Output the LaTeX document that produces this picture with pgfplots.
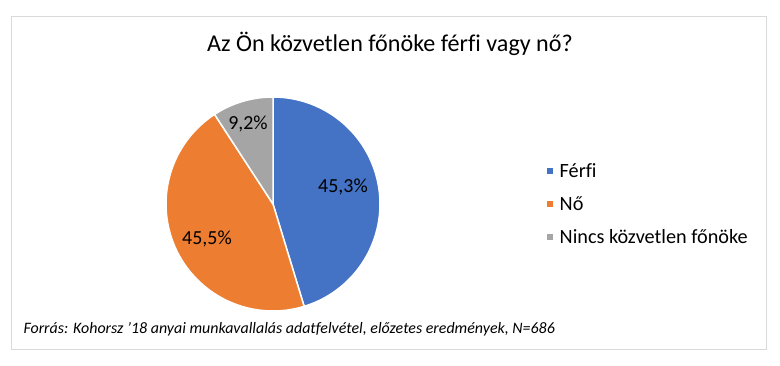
\documentclass[border=0pt]{standalone}
\usepackage{pgfplots}
\pgfplotsset{compat=1.18}
\usepackage{fontspec}
\setmainfont{Carlito}[Ligatures=NoCommon]
\definecolor{cBlue}{HTML}{4472C4}
\definecolor{cOrange}{HTML}{ED7D31}
\definecolor{cGray}{HTML}{A5A5A5}
\definecolor{cFrame}{HTML}{D9D9D9}
% shares in percent
\def\vFerfi{45.3}
\def\vNo{45.5}
\def\vNincs{9.2}
\def\cx{273}\def\cy{161}\def\rr{107}
\begin{document}
\begin{tikzpicture}
\pgfmathsetmacro{\aA}{90}
\pgfmathsetmacro{\aB}{90-3.6*\vFerfi}
\pgfmathsetmacro{\aC}{\aB-3.6*\vNo}
\pgfmathsetmacro{\aD}{\aC-3.6*\vNincs}
\begin{axis}[
  scale only axis, width=780bp, height=365bp,
  xmin=0, xmax=780, ymin=0, ymax=365,
  hide axis, clip=false,
  legend style={at={(axis cs:545,161)}, anchor=west, draw=none, fill=none,
    font=\fontsize{20.3}{24}\selectfont, row sep=13.5bp,
    cells={anchor=west}, inner sep=0pt,
    /tikz/every odd column/.append style={column sep=3bp}},
  legend cell align=left,
  legend image code/.code={\fill[#1] (0bp,-4bp) rectangle (8bp,4bp);},
]
\path (axis cs:0,0) rectangle (axis cs:780,365);
\draw[cFrame, line width=0.8bp] (axis cs:11,16) rectangle (axis cs:766,349);
\addplot[draw=white, line width=1.5bp, fill=cBlue, domain=\aB:\aA, samples=80, variable=\t]
  ({\cx+\rr*cos(\t)}, {\cy+\rr*sin(\t)}) -- (axis cs:\cx,\cy) -- cycle;
\addlegendentry{Férfi}
\addplot[draw=white, line width=1.5bp, fill=cOrange, domain=\aC:\aB, samples=80, variable=\t]
  ({\cx+\rr*cos(\t)}, {\cy+\rr*sin(\t)}) -- (axis cs:\cx,\cy) -- cycle;
\addlegendentry{Nő}
\addplot[draw=white, line width=1.5bp, fill=cGray, domain=\aD:\aC, samples=30, variable=\t]
  ({\cx+\rr*cos(\t)}, {\cy+\rr*sin(\t)}) -- (axis cs:\cx,\cy) -- cycle;
\addlegendentry{Nincs közvetlen főnöke}
\node[font=\fontsize{20}{24}\selectfont] at (axis cs:343,178) {45,3\%};
\node[font=\fontsize{20}{24}\selectfont] at (axis cs:207,126) {45,5\%};
\node[font=\fontsize{20}{24}\selectfont] at (axis cs:248,241) {9,2\%};
\node[font=\fontsize{24.2}{29}\selectfont] at (axis cs:390,321) {Az Ön közvetlen főnöke férfi vagy nő?};
\node[font=\fontsize{16}{19}\selectfont\itshape, anchor=west] at (axis cs:20,36) {Forrás: Kohorsz {\char"27}18 anyai munkavallalás adatfelvétel, előzetes eredmények, N=686};
\end{axis}
\end{tikzpicture}
\end{document}
